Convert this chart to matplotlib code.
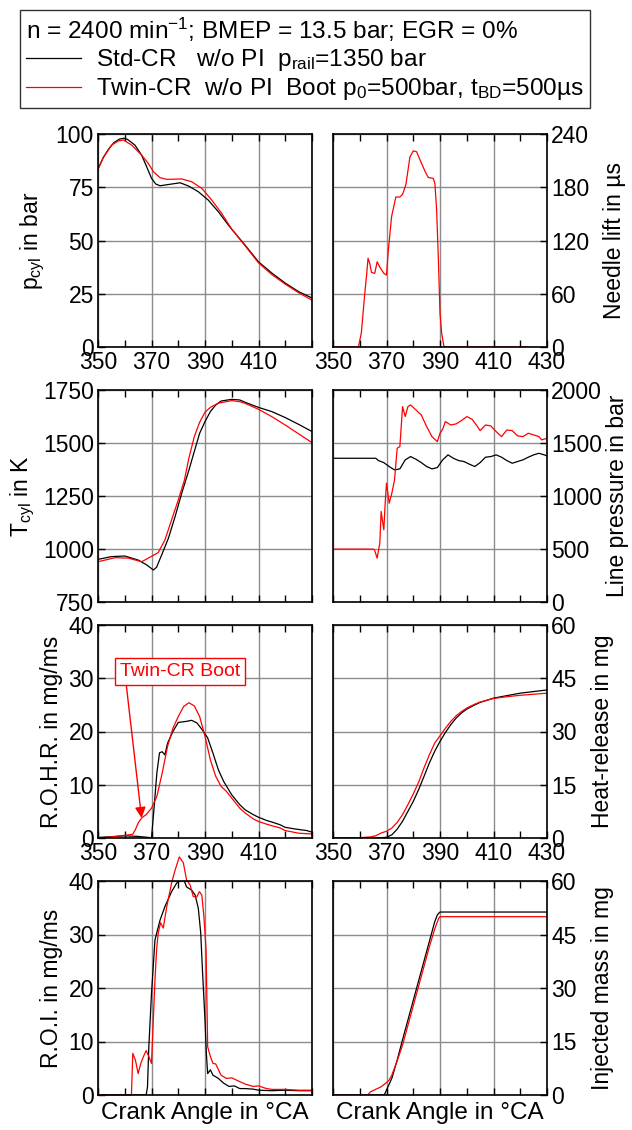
import matplotlib.pyplot as plt
import numpy as np

plt.rcParams['font.family'] = ['Liberation Sans', 'DejaVu Sans']
plt.rcParams['mathtext.fontset'] = 'custom'
plt.rcParams['mathtext.rm'] = 'Liberation Sans'
plt.rcParams['mathtext.it'] = 'Liberation Sans:italic'
plt.rcParams['font.size'] = 16.5

STD = 'black'
TWIN = '#ff0000'

# cylinder pressure (bar)
pcyl_std_ca = [350, 352, 354, 356, 358, 359.5, 361, 363.8, 366.3, 368.2, 370, 371.6, 373.2, 377.5, 380.7, 383.8,
               387.5, 391.2, 395, 398.7, 400, 405, 410, 415, 420, 425, 430]
pcyl_std = [83.5, 89, 93, 96, 97.6, 98, 97.5, 94.8, 90.1, 84.6, 79.2, 76.5, 75.7, 76.5, 77.1, 75.6,
            72.9, 69, 63.5, 57.3, 55.3, 47.8, 40, 34.7, 30, 26, 23]
pcyl_twin_ca = [350, 352, 355.1, 357.5, 359.5, 362.6, 366.3, 368.8, 370.7, 373.2, 375.7, 381.3, 385, 388.8,
                392.5, 396.2, 400, 405, 410, 415, 420, 425, 430]
pcyl_twin = [83.5, 89, 94.8, 96.7, 97.2, 94.8, 90.1, 86.2, 82.3, 79.5, 78.7, 78.9, 77.6, 74.5,
             69, 62.8, 55.3, 47.5, 39.5, 34, 29.5, 25.5, 22]

# needle lift (µs), Twin-CR only
nl_ca = [350, 359.5, 360.6, 361.9, 362.5, 363.1, 363.75, 364.4, 365.6, 366.5, 367.5, 369, 370, 370.6, 371.9,
         373.5, 375, 376, 377.25, 378.75, 380, 381.25, 382.5, 384.4, 385.6, 387.5, 388.1, 388.75, 389.4, 390,
         390.6, 391.5, 423]
nl_twin = [0, 0, 16, 61, 79, 100, 94, 84, 83, 96, 90, 83, 81, 106, 147,
           169, 169, 172, 183, 214, 221, 220, 211, 198, 191, 190, 184, 154, 98, 38,
           16, 0, 0]

# cylinder temperature (K)
tcyl_std_ca = [350, 355, 360, 365, 368.2, 370.7, 371.9, 373.8, 376.3, 378.8, 381.3, 384, 386, 388, 390, 392,
               394, 396, 400, 403, 405, 410, 415, 420, 425, 430]
tcyl_std = [951, 964, 967, 948, 925, 901, 914, 972, 1050, 1152, 1263, 1373, 1460, 1546, 1601, 1648,
            1679, 1698, 1706, 1703, 1692, 1668, 1648, 1620, 1588, 1554]
tcyl_twin_ca = [350, 356.4, 361.3, 366.3, 368.8, 372.5, 375, 377.5, 380, 382.3, 384, 386, 388, 390, 392, 395,
                400, 403, 405, 410, 415, 420, 425, 430]
tcyl_twin = [940, 959, 957, 940, 957, 983, 1042, 1137, 1231, 1325, 1430, 1530, 1598, 1645, 1668, 1688,
             1700, 1695, 1687, 1659, 1624, 1585, 1543, 1502]

# line pressure (bar)
lp_std_ca = [350, 366, 367, 369, 371, 373, 375, 377, 379, 381, 383, 385, 387, 389, 391, 393, 395, 397, 399, 401,
             403, 405, 407, 409, 411, 413, 415, 417, 419, 421, 423, 425, 427, 429, 430]
lp_std = [1356, 1356, 1334, 1315, 1278, 1246, 1256, 1341, 1372, 1347, 1315, 1278, 1256, 1268, 1341, 1388, 1356,
          1334, 1325, 1300, 1278, 1315, 1366, 1372, 1388, 1366, 1334, 1309, 1325, 1341, 1366, 1388, 1403, 1388, 1378]
lp_twin_ca = [350, 365, 365.5, 366.5, 367.5, 368, 369, 369.5, 370, 371, 372, 373, 374, 375, 376, 377, 378, 379,
              381, 383, 385, 387, 389, 390, 391, 392, 394, 396, 398, 400, 402, 404, 405, 407, 409, 411, 413, 415,
              417, 419, 421, 423, 425, 427, 428, 430]
lp_twin = [499, 499, 493, 414, 556, 854, 681, 932, 1121, 932, 1027, 1152, 1451, 1466, 1843, 1749, 1843, 1859,
           1812, 1765, 1655, 1560, 1513, 1592, 1630, 1702, 1670, 1680, 1711, 1749, 1724, 1655, 1617, 1670, 1661,
           1608, 1560, 1623, 1617, 1567, 1560, 1592, 1576, 1560, 1529, 1545]

# rate of heat release (mg/ms)
rohr_std_ca = [350, 360, 365, 369, 370, 371, 372, 373, 374, 375, 376, 378, 380, 383, 385, 387, 389, 391, 393, 395,
               397, 400, 403, 405, 408, 410, 413, 415, 418, 420, 423, 425, 428, 430]
rohr_std = [0.1, 0.4, 0.3, 0.1, 0, 5.9, 12.2, 16, 16.2, 15.6, 17.8, 20, 21.7, 21.9, 22.1, 21.6, 20.3, 18.8, 15.9,
            12.8, 10.6, 8.1, 6.25, 5.3, 4.4, 3.9, 3.3, 3, 2.5, 2, 1.75, 1.6, 1.4, 1.1]
rohr_twin_ca = [350, 355, 360, 363, 364, 365, 366.3, 368, 370, 372, 374, 376, 378, 380, 382, 384, 386, 388, 390,
                392, 394, 396, 398, 400, 403, 405, 408, 410, 413, 415, 418, 420, 425, 430]
rohr_twin = [0, 0.2, 0.5, 0.7, 1.6, 2.8, 3.75, 4.4, 5.6, 7.8, 12.2, 17.2, 20.6, 22.8, 24.7, 25.4, 24.8, 22.8, 19.1,
             14.7, 11.6, 9.7, 8.75, 7.5, 5.6, 4.7, 3.6, 3.1, 2.6, 2.3, 1.9, 1.4, 0.9, 0.75]

# cumulative heat release (mg)
hr_ca = [350, 360, 364, 366, 368, 370, 372, 374, 376, 378, 380, 382, 384, 386, 388, 390, 392, 394, 396, 398, 400,
         403, 405, 408, 410, 415, 420, 425, 430]
hr_std = [0, 0.1, 0.1, 0.1, 0.1, 0.2, 0.9, 2.5, 4.7, 7.5, 10.3, 13.6, 17.3, 21.1, 24.4, 27.2, 29.7, 31.9, 33.75,
          35.2, 36.3, 37.5, 38.2, 38.9, 39.4, 40.1, 40.8, 41.25, 41.7]
hr_twin = [0, 0.1, 0.3, 0.65, 1.4, 1.9, 2.8, 4.4, 6.6, 9.4, 12.4, 15.7, 19.7, 23.4, 26.7, 28.8, 30.9, 32.8, 34.4,
           35.6, 36.6, 37.7, 38.3, 38.9, 39.3, 39.8, 40.2, 40.5, 40.8]

# rate of injection (mg/ms)
roi_std_ca = [350, 368, 368.5, 369, 370, 371.3, 373.2, 375, 377.5, 379.4, 381.9, 383.1, 385, 386.3, 387.5, 388.4,
              389.1, 390, 390.5, 391, 392, 393, 395, 397, 399, 401, 403, 405, 408, 410, 415, 420, 425, 430]
roi_std = [0, 0, 1.5, 9, 19, 29, 32.7, 35.2, 38, 39.6, 40.5, 38.9, 38.3, 37.4, 34.9, 30.3,
           22.8, 14, 7.8, 4, 4.7, 3.7, 3.1, 2.2, 1.6, 1.7, 1.2, 1.2, 1.1, 0.9, 0.8, 0.9, 0.8, 0.8]
roi_twin_ca = [350, 362.5, 363, 364, 365, 366, 367, 368, 369, 370, 371.3, 371.9, 372.5, 373.4, 374.4, 375.7, 377.5,
               378.8, 380.4, 381.9, 383.1, 384.4, 385.6, 386.9, 387.9, 388.8, 389.6, 390.4, 391, 392, 393, 394, 396,
               398, 400, 403, 405, 408, 410, 413, 415, 420, 425, 430]
roi_twin = [0, 0, 7.8, 6.5, 4, 5.9, 7.2, 8.3, 7.2, 5.9, 21.5, 27.1, 30.3, 32.2, 31.2, 35.2, 39.6,
            42, 44.5, 43.4, 40.2, 39.3, 37.1, 37, 38, 37.4, 33.3, 27.1, 9, 7.2, 5.9, 5.8, 3.7,
            3.1, 3.2, 2.5, 2.05, 1.6, 1.7, 1.2, 1.05, 1.05, 0.9, 0.9]

# injected mass (mg)
mi_std_ca = [350, 369, 369.5, 370, 372, 374, 376, 378, 380, 382, 384, 386, 388, 389, 390, 392, 430]
mi_std = [0, 0, 0.5, 1.4, 4.7, 9.8, 15.5, 21, 26.5, 32, 37.5, 43, 48.5, 50.5, 51.3, 51.3, 51.3]
mi_twin_ca = [350, 363, 364, 366, 368, 370, 371, 372, 374, 376, 378, 380, 382, 384, 386, 388, 389.5, 390, 430]
mi_twin = [0, 0, 0.9, 1.6, 2.3, 3.5, 4.2, 5.6, 9.6, 14, 19.5, 25, 30.5, 36, 41.5, 46.5, 49.5, 50, 50]

fig = plt.figure(figsize=(6.32, 11.30), dpi=100)

W, H = 632, 1130
cols = [98, 333]
rows = [(134, 347), (390, 602), (625, 838), (881, 1095)]


def make_ax(r, c):
    top, bot = rows[r]
    left = cols[c]
    ax = fig.add_axes([left / W, 1 - bot / H, 214 / W, (bot - top) / H])
    ax.set_xlim(350, 430)
    ax.set_xticks(np.arange(350, 431, 20))
    ax.set_xticks(np.arange(360, 431, 20), minor=True)
    ax.grid(True, which='major', color='#8c8c8c', lw=1)
    ax.set_axisbelow(True)
    ax.tick_params(which='both', direction='in', top=True, bottom=True, length=5, width=1, pad=3)
    for s in ax.spines.values():
        s.set_linewidth(1.2)
    if c == 0:
        ax.tick_params(axis='y', left=True, right=False)
        if r in (0, 2):
            ax.set_xticklabels(['350', '370', '390', '410', ''])
    else:
        ax.yaxis.tick_right()
        ax.yaxis.set_label_position('right')
    if r in (1, 3):
        ax.tick_params(axis='x', labelbottom=False)
    if r == 3:
        ax.set_xlabel('Crank Angle in \u00b0CA', fontsize=17.5, labelpad=2)
    return ax


lw = 0.9

ax = make_ax(0, 0)
l_std, = ax.plot(pcyl_std_ca, pcyl_std, color=STD, lw=lw)
l_twin, = ax.plot(pcyl_twin_ca, pcyl_twin, color=TWIN, lw=lw)
ax.set_ylim(0, 100)
ax.set_yticks(np.arange(0, 101, 25))
ax.set_ylabel('p$_{\\mathrm{cyl}}$ in bar', labelpad=6)

ax = make_ax(0, 1)
ax.plot(nl_ca, nl_twin, color=TWIN, lw=lw)
ax.set_ylim(0, 240)
ax.set_yticks(np.arange(0, 241, 60))
ax.set_ylabel('Needle lift in \u00b5s', labelpad=10)

ax = make_ax(1, 0)
ax.plot(tcyl_std_ca, tcyl_std, color=STD, lw=lw)
ax.plot(tcyl_twin_ca, tcyl_twin, color=TWIN, lw=lw)
ax.set_ylim(750, 1750)
ax.set_yticks(np.arange(750, 1751, 250))
ax.set_ylabel('T$_{\\mathrm{cyl}}$ in K')

ax = make_ax(1, 1)
ax.plot(lp_std_ca, lp_std, color=STD, lw=lw)
ax.plot(lp_twin_ca, lp_twin, color=TWIN, lw=lw)
ax.set_ylim(0, 2000)
ax.set_yticks(np.arange(0, 2001, 500))
ax.set_ylabel('Line pressure in bar', labelpad=3)

ax = make_ax(2, 0)
ax.plot(rohr_std_ca, rohr_std, color=STD, lw=lw)
ax.plot(rohr_twin_ca, rohr_twin, color=TWIN, lw=lw)
ax.set_ylim(0, 40)
ax.set_yticks(np.arange(0, 41, 10))
ax.set_ylabel('R.O.H.R. in mg/ms')
ax.annotate('Twin-CR Boot', xy=(366.3, 3.75), xytext=(380.6, 31.2), color=TWIN, fontsize=14,
            ha='center', va='center',
            bbox=dict(boxstyle='square,pad=0.25', fc='white', ec=TWIN, lw=1),
            arrowprops=dict(arrowstyle='-|>', color=TWIN, lw=1, shrinkA=0, shrinkB=0,
                            mutation_scale=16, relpos=(0.05, 0)))

ax = make_ax(2, 1)
ax.plot(hr_ca, hr_std, color=STD, lw=lw)
ax.plot(hr_ca, hr_twin, color=TWIN, lw=lw)
ax.set_ylim(0, 60)
ax.set_yticks(np.arange(0, 61, 15))
ax.set_ylabel('Heat-release in mg', labelpad=10)

ax = make_ax(3, 0)
ax.plot(roi_std_ca, roi_std, color=STD, lw=lw)
ax.plot(roi_twin_ca, roi_twin, color=TWIN, lw=lw, clip_on=False)
ax.set_ylim(0, 40)
ax.set_yticks(np.arange(0, 41, 10))
ax.set_ylabel('R.O.I. in mg/ms')

ax = make_ax(3, 1)
ax.plot(mi_std_ca, mi_std, color=STD, lw=lw)
ax.plot(mi_twin_ca, mi_twin, color=TWIN, lw=lw)
ax.set_ylim(0, 60)
ax.set_yticks(np.arange(0, 61, 15))
ax.set_ylabel('Injected mass in mg', labelpad=10)

leg = fig.legend([l_std, l_twin],
                 ['Std-CR   w/o PI  p$_{\\mathrm{rail}}$=1350 bar',
                  'Twin-CR  w/o PI  Boot p$_0$=500bar, t$_{\\mathrm{BD}}$=500\u00b5s'],
                 title='n = 2400 min$^{-1}$; BMEP = 13.5 bar; EGR = 0%',
                 title_fontsize=17.6, fontsize=17.6, alignment='left',
                 loc='upper left', bbox_to_anchor=(20 / W, 1 - 10 / H),
                 frameon=True, fancybox=False, edgecolor='#333333', framealpha=1,
                 handlelength=2.25, handletextpad=0.6, labelspacing=0.12,
                 borderpad=0.25, borderaxespad=0)
leg.get_frame().set_linewidth(1)

fig.savefig('out.png', dpi=100)
